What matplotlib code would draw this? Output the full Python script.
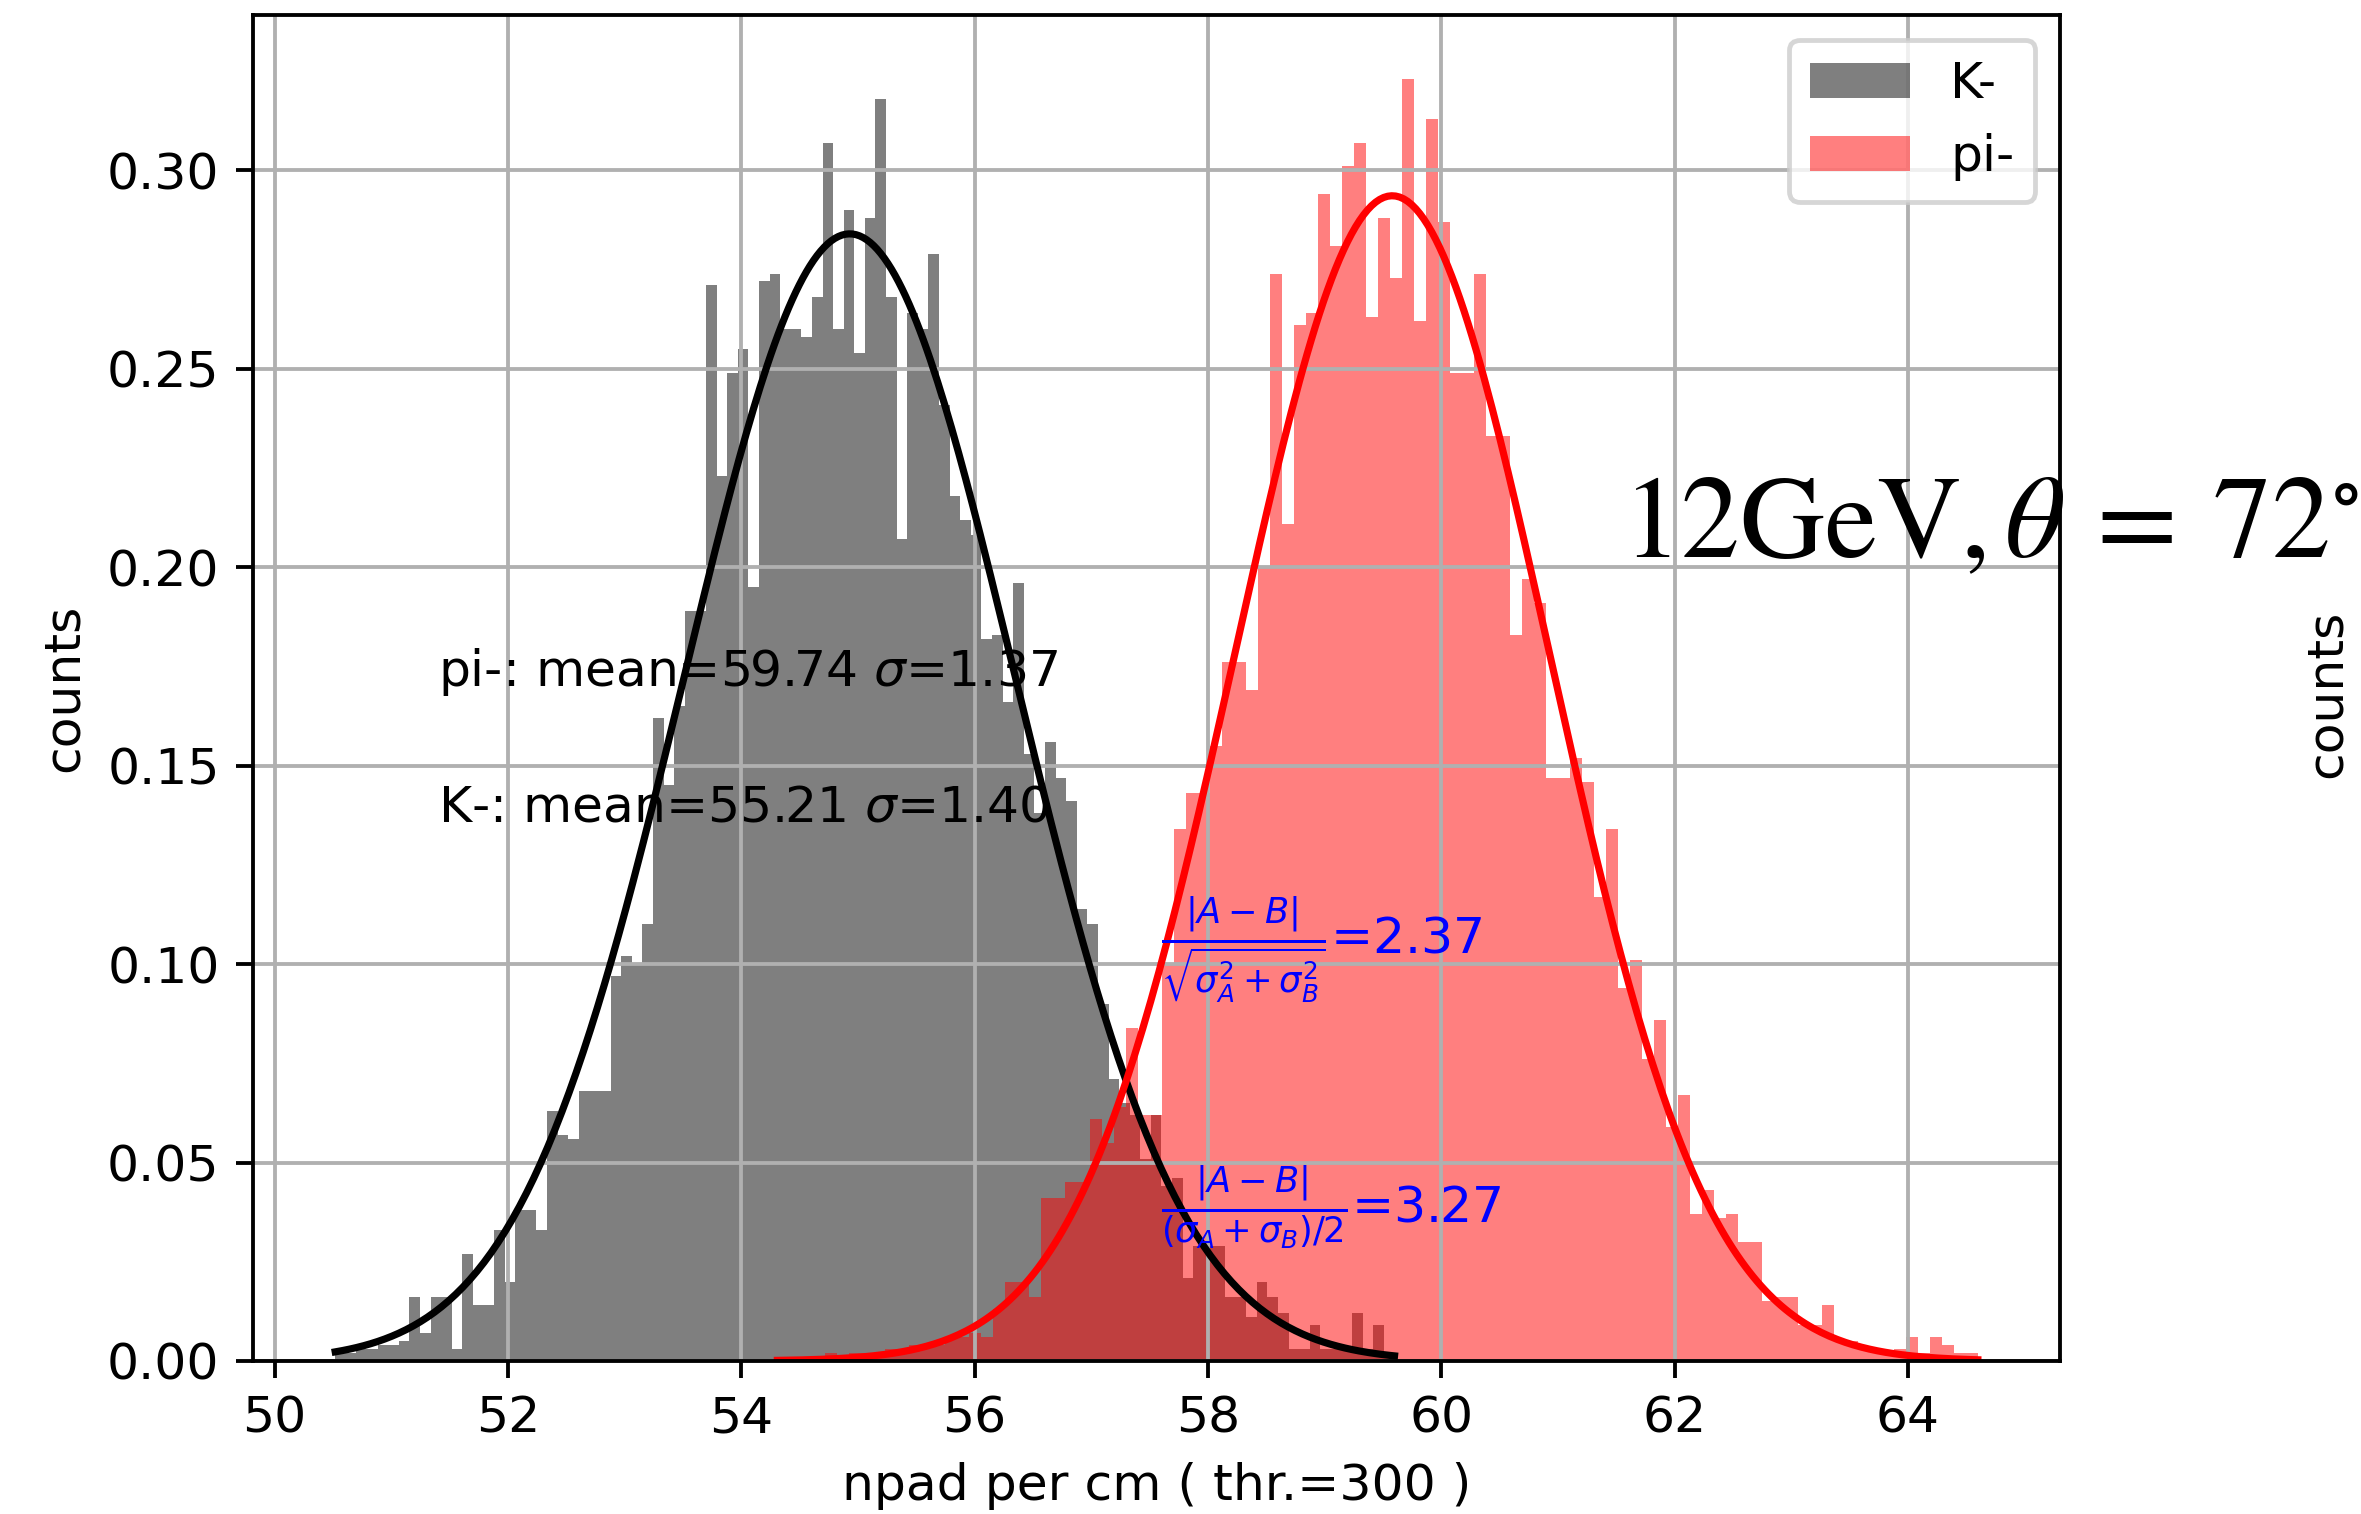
import numpy as np
import matplotlib
matplotlib.use('Agg')
import matplotlib.pyplot as plt

# histogram bin heights (density), 100 bins each
k_lo, k_hi = 50.52, 59.60
k_heights = [0.002, 0.002, 0.003, 0.003, 0.004, 0.004, 0.005, 0.016, 0.007, 0.016,
             0.016, 0.003, 0.027, 0.014, 0.014, 0.033, 0.020, 0.038, 0.038, 0.033,
             0.063, 0.057, 0.056, 0.068, 0.068, 0.068, 0.097, 0.102, 0.100, 0.110,
             0.162, 0.145, 0.165, 0.189, 0.189, 0.271, 0.223, 0.249, 0.255, 0.195,
             0.272, 0.274, 0.260, 0.260, 0.258, 0.268, 0.307, 0.260, 0.290, 0.254,
             0.288, 0.318, 0.268, 0.207, 0.264, 0.260, 0.279, 0.241, 0.218, 0.212,
             0.208, 0.182, 0.183, 0.166, 0.196, 0.153, 0.138, 0.156, 0.147, 0.141,
             0.114, 0.110, 0.090, 0.071, 0.065, 0.062, 0.051, 0.062, 0.044, 0.046,
             0.021, 0.029, 0.029, 0.029, 0.016, 0.016, 0.011, 0.020, 0.016, 0.012,
             0.003, 0.003, 0.009, 0.003, 0.003, 0.003, 0.012, 0.003, 0.009, 0.002]

pi_lo, pi_hi = 54.31, 64.60
pi_heights = [0.001, 0.001, 0.001, 0.001, 0.002, 0.001, 0.002, 0.002, 0.002, 0.003,
              0.003, 0.004, 0.004, 0.004, 0.006, 0.006, 0.007, 0.006, 0.013, 0.020,
              0.020, 0.016, 0.041, 0.041, 0.045, 0.045, 0.061, 0.055, 0.064, 0.084,
              0.062, 0.062, 0.100, 0.134, 0.143, 0.143, 0.155, 0.176, 0.176, 0.169,
              0.200, 0.274, 0.211, 0.261, 0.264, 0.294, 0.281, 0.301, 0.307, 0.263,
              0.288, 0.273, 0.323, 0.262, 0.313, 0.287, 0.249, 0.249, 0.274, 0.233,
              0.233, 0.183, 0.197, 0.191, 0.147, 0.147, 0.152, 0.146, 0.117, 0.134,
              0.094, 0.101, 0.076, 0.086, 0.059, 0.067, 0.037, 0.043, 0.036, 0.037,
              0.030, 0.030, 0.015, 0.016, 0.016, 0.009, 0.009, 0.014, 0.005, 0.005,
              0.003, 0.003, 0.002, 0.003, 0.006, 0.002, 0.006, 0.004, 0.002, 0.002]

# gaussian fit parameters (amplitude, mean, sigma)
k_fit = (0.284, 54.93, 1.42)
pi_fit = (0.2936, 59.58, 1.35)

def gaus(x, a, mu, s):
    return a*np.exp(-(x-mu)**2/(2*s**2))

plt.rcParams['font.size'] = 10.5

fig = plt.figure(figsize=(2361/345, 1514/345), dpi=345)
ax = fig.add_axes([0.1072, 0.1011, 0.7653, 0.8890])

k_edges = np.linspace(k_lo, k_hi, len(k_heights)+1)
pi_edges = np.linspace(pi_lo, pi_hi, len(pi_heights)+1)
ax.hist(k_edges[:-1], bins=k_edges, weights=k_heights, color='k', alpha=0.5, label='K-')
ax.hist(pi_edges[:-1], bins=pi_edges, weights=pi_heights, color='r', alpha=0.5, label='pi-')

xk = np.linspace(k_lo, k_hi, 300)
xp = np.linspace(pi_lo, pi_hi, 300)
ax.plot(xk, gaus(xk, *k_fit), color='k')
ax.plot(xp, gaus(xp, *pi_fit), color='r')

ax.text(51.4, 0.170, r'pi-: mean=59.74 $\sigma$=1.37')
ax.text(51.4, 0.136, r'K-: mean=55.21 $\sigma$=1.40')
ax.text(57.6, 0.1025, r'$\frac{|A-B|}{\sqrt{\sigma_A^2+\sigma_B^2}}$=2.37', color='blue')
ax.text(57.6, 0.0347, r'$\frac{|A-B|}{(\sigma_A+\sigma_B)/2}$=3.27', color='blue')

ax.set_xlabel('npad per cm ( thr.=300 )')
ax.set_ylabel('counts')
ax.grid(True)
ax.legend(loc='upper right')

# title of the panel and label of the neighbouring panel (cut off at the edge)
fig.text(0.687, 0.632, r'12GeV,$\,\theta\:=\:72^{\circ}$', fontsize=24.5,
         family='STIXGeneral', math_fontfamily='stix')
fig.text(0.9856, 0.542, 'counts', rotation=90, ha='center', va='center')

fig.savefig('out.png', dpi=345)
